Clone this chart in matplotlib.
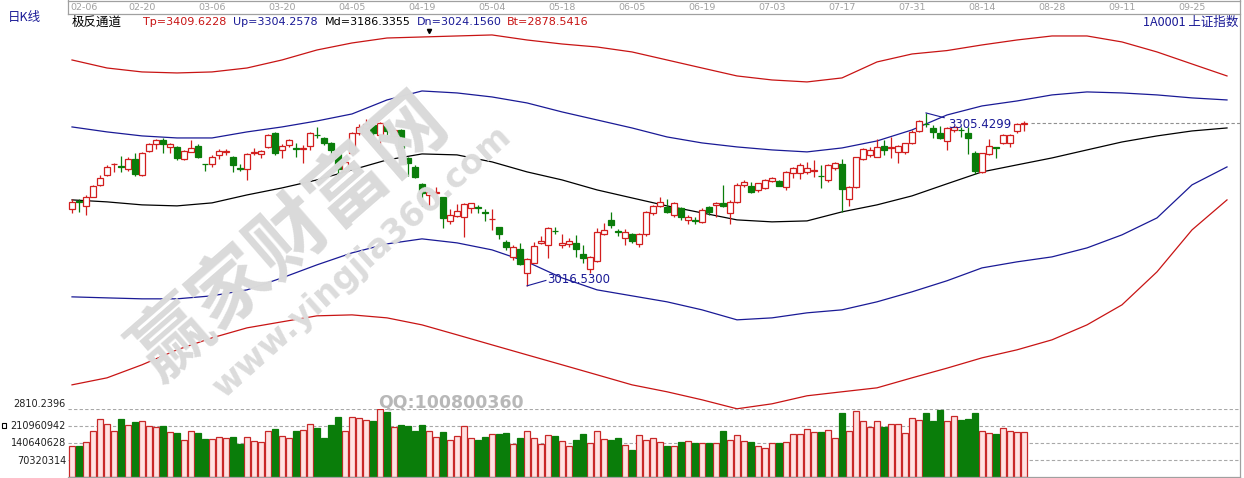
import numpy as np
import matplotlib.pyplot as plt
from matplotlib.lines import Line2D
from matplotlib.patches import Rectangle

plt.rcParams['font.family'] = ['Noto Sans CJK SC', 'DejaVu Sans']

# --- data (SSE index, daily) ---
DATE_TICKS = [0, 10, 20, 30, 40, 50, 60, 70, 80, 90, 100, 110, 120, 130, 140, 150, 160]
DATE_LABELS = ["02-06", "02-20", "03-06", "03-20", "04-05", "04-19", "05-04", "05-18",
               "06-05", "06-19", "07-03", "07-17", "07-31", "08-14", "08-28", "09-11", "09-25"]

OPEN = [3144.6, 3157.9, 3150.1, 3165.6, 3185.2, 3201.9, 3219.7, 3216.4, 3211.4, 3228.6,
        3201.3, 3242.4, 3253.6, 3260.3, 3248.6, 3249.1, 3228.6, 3240.8, 3250.3, 3220.7,
        3219.7, 3235.3, 3240.8, 3232.4, 3213.5, 3211.4, 3238.6, 3236.4, 3248.1, 3272.5,
        3243.6, 3251.4, 3246.9, 3245.8, 3250.3, 3269.2, 3264.1, 3254.8, 3236.9, 3209.0,
        3238.1, 3272.5, 3279.8, 3285.4, 3268.6, 3283.7, 3267.0, 3277.0, 3229.8, 3214.7,
        3186.8, 3168.4, 3172.3, 3164.6, 3125.0, 3133.9, 3132.2, 3146.2, 3147.9, 3139.6,
        3127.9, 3114.5, 3090.5, 3065.4, 3077.8, 3038.7, 3055.4, 3087.8, 3084.9, 3108.8,
        3084.9, 3086.6, 3087.8, 3069.4, 3044.4, 3057.9, 3103.3, 3126.7, 3108.3, 3096.1,
        3102.5, 3085.8, 3102.5, 3137.9, 3150.1, 3148.9, 3135.0, 3146.2, 3126.7, 3126.2,
        3123.9, 3147.9, 3151.2, 3154.6, 3138.9, 3157.3, 3185.2, 3183.5, 3176.8, 3179.6,
        3192.3, 3192.3, 3182.3, 3205.7, 3204.7, 3207.4, 3208.5, 3200.7, 3193.5, 3213.0,
        3220.2, 3161.3, 3181.3, 3228.1, 3235.3, 3232.4, 3250.3, 3246.9, 3240.8, 3240.8,
        3254.8, 3275.8, 3287.5, 3279.8, 3271.5, 3259.1, 3277.0, 3277.5, 3271.5, 3239.1,
        3207.4, 3236.9, 3248.6, 3254.8, 3254.8, 3275.8, 3287.0]
HIGH = [3161.8, 3161.3, 3168.4, 3185.2, 3201.9, 3218.6, 3221.9, 3233.6, 3232.4, 3238.6,
        3240.8, 3255.8, 3262.0, 3263.7, 3255.3, 3250.3, 3243.6, 3260.3, 3253.6, 3220.7,
        3235.3, 3245.3, 3245.8, 3233.6, 3220.2, 3238.6, 3247.4, 3243.6, 3270.3, 3274.2,
        3253.6, 3262.0, 3255.8, 3251.9, 3274.2, 3282.0, 3265.8, 3257.5, 3238.6, 3225.7,
        3274.2, 3287.0, 3295.4, 3287.0, 3290.9, 3285.4, 3279.8, 3278.7, 3231.4, 3218.6,
        3189.0, 3178.5, 3181.8, 3165.6, 3145.1, 3153.4, 3155.6, 3155.6, 3151.8, 3144.6,
        3144.6, 3115.5, 3093.3, 3084.9, 3088.8, 3062.7, 3090.5, 3100.0, 3114.5, 3114.5,
        3103.3, 3096.1, 3101.7, 3084.9, 3066.6, 3112.8, 3121.2, 3140.6, 3111.2, 3111.2,
        3104.5, 3104.5, 3142.3, 3151.8, 3165.6, 3161.3, 3157.3, 3147.9, 3135.0, 3132.2,
        3146.2, 3150.1, 3157.3, 3185.2, 3159.3, 3188.0, 3193.5, 3190.7, 3189.0, 3194.7,
        3198.0, 3193.5, 3209.0, 3215.7, 3222.4, 3224.1, 3226.9, 3218.6, 3220.2, 3224.1,
        3228.1, 3183.5, 3232.4, 3246.4, 3249.1, 3261.5, 3260.3, 3264.8, 3251.9, 3255.8,
        3277.0, 3293.7, 3305.4299, 3285.4, 3283.7, 3281.5, 3283.7, 3282.5, 3282.5, 3242.4,
        3239.1, 3261.5, 3249.1, 3270.3, 3270.3, 3288.2, 3292.5]
LOW = [3138.4, 3140.6, 3135.0, 3164.6, 3183.5, 3200.2, 3206.9, 3206.9, 3209.0, 3200.2,
       3200.2, 3240.8, 3245.3, 3238.6, 3238.6, 3226.9, 3226.9, 3240.3, 3230.2, 3209.0,
       3215.7, 3228.6, 3235.3, 3207.4, 3209.0, 3193.5, 3235.3, 3230.2, 3246.4, 3235.3,
       3230.2, 3249.1, 3231.4, 3222.4, 3243.6, 3263.7, 3251.9, 3235.3, 3198.5, 3207.4,
       3236.9, 3268.6, 3277.0, 3267.0, 3246.9, 3263.7, 3265.3, 3239.1, 3200.2, 3196.3,
       3150.1, 3150.1, 3160.1, 3112.8, 3120.0, 3132.2, 3098.8, 3137.9, 3138.9, 3125.5,
       3110.0, 3094.5, 3076.6, 3059.9, 3051.6, 3016.53, 3054.4, 3086.6, 3062.7, 3103.3,
       3079.4, 3081.1, 3065.4, 3055.4, 3038.7, 3057.1, 3101.7, 3112.8, 3100.0, 3084.9,
       3088.8, 3081.1, 3100.0, 3135.0, 3147.9, 3137.9, 3132.2, 3126.7, 3120.0, 3120.0,
       3122.2, 3135.0, 3132.2, 3148.9, 3120.0, 3155.6, 3182.3, 3172.3, 3174.0, 3178.0,
       3190.7, 3183.5, 3176.8, 3196.3, 3194.7, 3203.5, 3199.0, 3179.6, 3190.7, 3210.2,
       3140.6, 3150.1, 3179.6, 3226.9, 3232.4, 3231.4, 3235.3, 3229.8, 3222.4, 3236.9,
       3253.6, 3274.2, 3282.5, 3263.2, 3261.5, 3243.6, 3274.2, 3264.8, 3236.9, 3203.5,
       3205.7, 3235.3, 3229.8, 3253.6, 3249.1, 3272.5, 3275.8]
CLOSE = [3157.3, 3156.3, 3165.6, 3183.5, 3196.8, 3215.7, 3220.7, 3215.2, 3229.1, 3203.5,
         3239.1, 3253.6, 3260.3, 3253.6, 3253.6, 3230.2, 3241.9, 3246.9, 3232.4, 3219.7,
         3232.4, 3242.4, 3241.9, 3218.6, 3212.4, 3236.4, 3239.8, 3241.9, 3268.6, 3239.1,
         3250.3, 3260.3, 3245.8, 3246.9, 3271.5, 3268.2, 3254.8, 3243.6, 3211.4, 3224.1,
         3271.5, 3282.5, 3287.0, 3271.5, 3289.2, 3275.8, 3277.0, 3246.4, 3222.4, 3198.0,
         3172.3, 3174.0, 3174.0, 3130.5, 3134.5, 3141.7, 3153.4, 3154.6, 3146.7, 3138.4,
         3128.9, 3103.3, 3081.1, 3082.1, 3053.2, 3061.1, 3083.8, 3092.1, 3112.8, 3107.8,
         3088.8, 3091.6, 3077.8, 3063.7, 3064.4, 3107.2, 3110.0, 3118.4, 3106.7, 3107.2,
         3092.1, 3102.8, 3140.1, 3149.2, 3157.3, 3140.6, 3154.6, 3132.2, 3132.2, 3125.0,
         3143.9, 3140.6, 3155.6, 3150.1, 3157.3, 3185.2, 3190.7, 3174.0, 3188.0, 3193.5,
         3196.3, 3183.5, 3207.4, 3213.0, 3218.6, 3213.0, 3209.7, 3199.7, 3218.6, 3222.4,
         3178.0, 3181.3, 3231.4, 3244.8, 3243.6, 3249.1, 3243.6, 3248.1, 3250.3, 3254.8,
         3274.2, 3292.5, 3286.5, 3274.2, 3263.2, 3279.8, 3281.5, 3276.5, 3263.2, 3209.0,
         3238.1, 3250.3, 3247.4, 3268.6, 3268.6, 3287.0, 3289.2]
VOLUME_M = [129.5, 129.5, 146.0, 191.5, 239.9, 220.5, 191.5, 239.9, 216.3, 228.7,
            232.9, 212.2, 208.1, 212.2, 186.1, 182.0, 153.0, 191.5, 182.0, 157.2,
            157.2, 165.5, 161.3, 165.5, 137.7, 165.5, 150.2, 144.8, 191.5, 198.6,
            170.8, 161.3, 191.5, 194.4, 220.5, 205.2, 161.3, 216.3, 248.2, 192.8,
            248.2, 244.0, 237.0, 232.9, 281.3, 271.4, 206.8, 216.3, 212.2, 191.5,
            216.3, 191.5, 165.5, 187.4, 153.0, 169.6, 212.2, 161.3, 154.3, 165.5,
            179.1, 179.1, 183.2, 137.7, 161.3, 191.5, 161.3, 137.7, 175.0, 170.8,
            150.2, 129.5, 154.3, 180.4, 140.6, 191.5, 157.2, 154.3, 162.6, 133.6,
            112.9, 175.0, 154.3, 161.3, 147.3, 129.5, 129.5, 147.3, 150.2, 140.6,
            140.6, 143.1, 140.6, 192.8, 154.3, 175.0, 150.2, 144.8, 129.5, 122.4,
            143.1, 143.1, 147.3, 179.1, 179.1, 198.6, 187.4, 187.4, 194.4, 161.3,
            267.2, 191.5, 274.2, 232.9, 209.3, 232.9, 209.3, 219.2, 220.5, 182.0,
            244.0, 237.0, 267.2, 232.9, 278.4, 232.9, 253.6, 237.0, 241.2, 267.2,
            191.5, 184.5, 179.1, 202.7, 191.5, 186.1, 186.1]

BAND_IDX = list(range(0, 170, 5))
TP = [3393.9, 3380.5, 3373.9, 3372.2, 3373.9, 3380.5, 3393.9, 3410.6, 3422.3, 3430.6,
      3432.3, 3434.0, 3435.7, 3427.3, 3420.6, 3415.6, 3407.3, 3393.9, 3380.5, 3367.2,
      3360.5, 3357.2, 3363.9, 3390.6, 3403.9, 3409.6, 3419.0, 3427.3, 3434.0, 3434.0,
      3424.0, 3407.3, 3387.2, 3367.2]
UP = [3282.0, 3273.7, 3267.0, 3263.6, 3263.6, 3273.7, 3282.0, 3292.0, 3303.7, 3327.1,
      3342.1, 3338.8, 3332.1, 3322.1, 3307.1, 3293.7, 3280.3, 3265.3, 3255.3, 3248.6,
      3243.6, 3240.3, 3246.9, 3258.6, 3277.0, 3302.0, 3317.1, 3325.4, 3335.5, 3340.5,
      3338.8, 3335.5, 3330.5, 3327.1]
MD = [3160.1, 3156.8, 3151.8, 3150.1, 3155.1, 3168.4, 3180.1, 3193.5, 3210.2, 3226.9,
      3236.9, 3235.3, 3223.6, 3206.9, 3193.5, 3176.8, 3163.4, 3150.1, 3138.4, 3126.7,
      3123.4, 3125.0, 3140.1, 3151.8, 3166.8, 3187.0, 3206.9, 3218.6, 3230.2, 3243.6,
      3256.9, 3267.0, 3275.3, 3280.3]
DN = [2998.1, 2996.4, 2994.8, 2994.8, 2999.8, 3009.8, 3029.8, 3051.6, 3071.6, 3086.6,
      3095.0, 3088.3, 3076.6, 3056.6, 3029.8, 3009.8, 2999.8, 2989.8, 2976.4, 2959.7,
      2963.0, 2971.4, 2976.4, 2989.8, 3006.5, 3025.0, 3046.5, 3056.6, 3064.9, 3079.9,
      3101.7, 3130.0, 3185.2, 3215.2]
BT = [2851.1, 2862.8, 2884.6, 2909.6, 2929.6, 2946.3, 2956.4, 2966.4, 2968.0, 2963.0,
      2951.3, 2934.7, 2917.9, 2901.2, 2884.6, 2867.9, 2851.1, 2839.5, 2826.1, 2811.1,
      2819.4, 2832.8, 2839.5, 2846.1, 2862.8, 2879.0, 2896.2, 2909.6, 2926.3, 2951.3,
      2984.8, 3039.9, 3110.0, 3160.1]

VOL_LEVELS = [70320314, 140640628, 210960942, 281281256]
VOL_LABELS = ["70320314", "140640628", "210960942", "2810.2396"]
PRICE_MIN, PRICE_MAX = 2810.2396, 3470.7

W, H = 1244, 478
RED = '#d21e1e'
GREEN = '#0a7d0a'
NAVY = '#1a1a96'


def fx(px):
    return px / W


def fy(py):
    return 1 - py / H


def main():
    fig = plt.figure(figsize=(W / 100, H / 100), dpi=100)
    x0, x1 = 68, 1240
    xlim = ((x0 - 72) / 7, (x1 - 72) / 7)

    ax = fig.add_axes([fx(x0), fy(409.3), fx(x1) - fx(x0), fy(14) - fy(409.3)])
    axv = fig.add_axes([fx(x0), fy(477.3), fx(x1) - fx(x0), fy(409.3) - fy(477.3)])
    axh = fig.add_axes([fx(x0), fy(14), fx(x1) - fx(x0), fy(0) - fy(14)])
    for a in (ax, axv, axh):
        a.set_xlim(*xlim)
        a.set_xticks([])
        a.set_yticks([])
        for s in a.spines.values():
            s.set_visible(False)
        a.patch.set_alpha(0)
    ax.set_ylim(PRICE_MIN, PRICE_MAX)
    axv.set_ylim(0, VOL_LEVELS[-1])

    # watermark
    fig.text(fx(290), fy(238), "赢家财富网", fontsize=56, rotation=41, color='#dadada',
             ha='center', va='center', fontweight='bold', zorder=0)
    fig.text(fx(362), fy(262), "www.yingjia360.com", fontsize=24, rotation=42, color='#dcdcdc',
             ha='center', va='center', fontweight='bold', family='DejaVu Sans', zorder=0)
    fig.text(fx(378), fy(403), "QQ:100800360", fontsize=12.5, color='#b8b8b8',
             ha='left', va='center', fontweight='bold', family='DejaVu Sans', zorder=0)

    idx = np.arange(len(CLOSE))
    o = np.array(OPEN)
    c = np.array(CLOSE)
    up = c >= o

    # bands
    ax.plot(BAND_IDX, TP, color='#c81414', lw=0.9)
    ax.plot(BAND_IDX, UP, color=NAVY, lw=0.9)
    ax.plot(BAND_IDX, MD, color='black', lw=0.9)
    ax.plot(BAND_IDX, DN, color=NAVY, lw=0.9)
    ax.plot(BAND_IDX, BT, color='#c81414', lw=0.9)

    # candles
    cols = np.where(up, RED, GREEN)
    ax.vlines(idx, LOW, HIGH, colors=cols, lw=0.9, zorder=2)
    body = np.maximum(np.abs(c - o), 0.9)
    bottom = np.minimum(o, c)
    ax.bar(idx[up], body[up], bottom=bottom[up], width=0.72, facecolor='white',
           edgecolor=RED, lw=0.9, zorder=3)
    ax.bar(idx[~up], body[~up], bottom=bottom[~up], width=0.72, facecolor=GREEN,
           edgecolor=GREEN, lw=0.9, zorder=3)

    # extremes
    hi = int(np.argmax(HIGH))
    lo = int(np.argmin(LOW))
    ax.plot([hi, hi + 2.6], [HIGH[hi], HIGH[hi] - 8], color=NAVY, lw=0.8)
    ax.text(hi + 3.1, HIGH[hi] - 20, f"{HIGH[hi]:.4f}", color=NAVY, fontsize=8.5,
            va='center', ha='left', family='DejaVu Sans')
    ax.plot([lo, lo + 2.7], [LOW[lo], LOW[lo] + 9], color=NAVY, lw=0.8)
    ax.text(lo + 2.9, LOW[lo] + 10, f"{LOW[lo]:.4f}", color=NAVY, fontsize=8.5,
            va='center', ha='left', family='DejaVu Sans')
    ax.plot([51], [3442], marker='v', color='black', ms=3)

    # last close line
    ax.plot([len(CLOSE), xlim[1]], [CLOSE[-1], CLOSE[-1]], color='#909090', lw=0.8,
            ls=(0, (3, 2)))

    # volume
    vol = np.array(VOLUME_M) * 1e6
    for lv in VOL_LEVELS:
        axv.axhline(lv, color='#a8a8a8', lw=0.8, ls=(0, (3, 2)), zorder=1)
    axv.bar(idx[up], vol[up], width=0.72, facecolor='#ffe2e2', edgecolor='#c82828',
            lw=0.9, zorder=3)
    axv.bar(idx[~up], vol[~up], width=0.72, facecolor=GREEN, edgecolor=GREEN,
            lw=0.9, zorder=3)
    label_y = [460.5, 443.3, 426.2, 404]
    for lab, py in zip(VOL_LABELS, label_y):
        fig.text(fx(66), fy(py), lab, ha='right', va='center', fontsize=7,
                 family='DejaVu Sans', color='#202020')
    fig.add_artist(Rectangle((fx(1.5), fy(427.5)), fx(4), fy(423) - fy(427.5),
                             facecolor='white', edgecolor='black', lw=0.8))

    # date strip
    for t, lab in zip(DATE_TICKS, DATE_LABELS):
        ha = 'left' if t == 0 else 'center'
        xx = t - 0.3 if t == 0 else t
        axh.text(xx, 0.5, lab, ha=ha, va='center', fontsize=6.8, color='#a0a0a0',
                 family='DejaVu Sans')

    # borders
    grey = '#a0a0a0'
    for (xa, ya, xb, yb) in [(x0, 0.5, x1, 0.5), (x0, 14, x1, 14), (x0, 0, x0, 14),
                             (x1, 0, x1, 477.5), (x0, 477.3, x1, 477.3)]:
        fig.add_artist(Line2D([fx(xa), fx(xb)], [fy(ya), fy(yb)], color=grey, lw=0.9))

    # header texts
    fig.text(fx(8), fy(18), "日K线", color=NAVY, fontsize=9, ha='left', va='center')
    fig.text(fx(72), fy(22), "极反通道", color='black', fontsize=9, ha='left', va='center')
    pieces = [(143, "Tp=3409.6228", '#c81414'), (233, "Up=3304.2578", NAVY),
              (325, "Md=3186.3355", 'black'), (417, "Dn=3024.1560", NAVY),
              (507, "Bt=2878.5416", '#c81414')]
    for px, s, col in pieces:
        fig.text(fx(px), fy(22), s, color=col, fontsize=8, ha='left', va='center',
                 family='DejaVu Sans')
    fig.text(fx(1238), fy(22), "1A0001 上证指数", color=NAVY, fontsize=9,
             ha='right', va='center')

    fig.savefig("out.png", dpi=100)


if __name__ == '__main__':
    main()
